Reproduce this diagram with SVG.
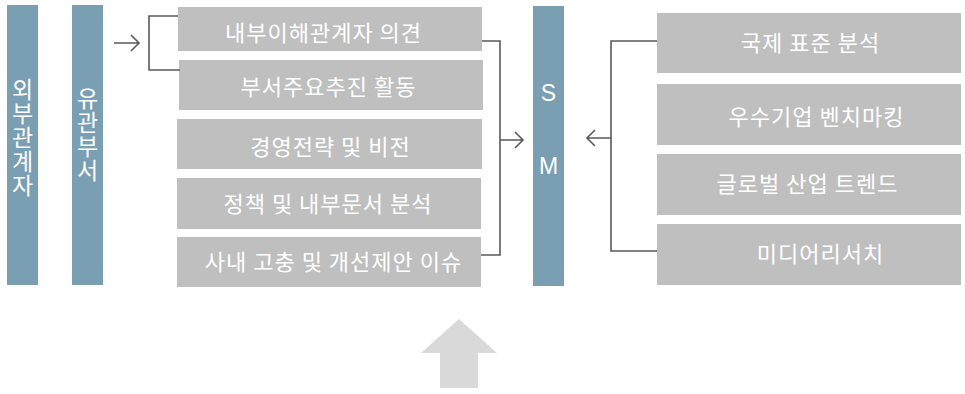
<svg xmlns="http://www.w3.org/2000/svg" width="965" height="394" viewBox="0 0 965 394">
<style>
.bar{fill:#7a9fb2}
.box{fill:#bfbfbf}
.t{font-family:"Noto Sans CJK KR","Noto Sans",sans-serif;font-size:22px;fill:#ffffff;text-anchor:middle;dominant-baseline:central;letter-spacing:1px}
.vt{font-family:"Noto Sans CJK KR","Noto Sans",sans-serif;font-size:23px;fill:#ffffff;text-anchor:middle;writing-mode:vertical-rl;letter-spacing:1px}
.lt{font-family:"Liberation Sans",Arial,sans-serif;font-size:23px;fill:#ffffff;text-anchor:middle;dominant-baseline:central}
.ln{fill:none;stroke:#5a5a5a;stroke-width:1.6}
</style>
<g id="ext">
<rect class="bar" x="7" y="5" width="31" height="280"/>
<text class="vt" x="22.5" y="138">외부관계자</text>
</g>
<g id="dept">
<rect class="bar" x="72" y="5" width="31" height="280"/>
<text class="vt" x="87.5" y="135">유관부서</text>
</g>
<g id="b1"><rect class="box" x="178" y="7" width="304" height="44"/><text class="t" x="323.5" y="31">내부이해관계자 의견</text></g>
<g id="b2"><rect class="box" x="179" y="60" width="304" height="50"/><text class="t" x="328.5" y="85">부서주요추진 활동</text></g>
<g id="b3"><rect class="box" x="177" y="119" width="305" height="50"/><text class="t" x="330.5" y="145">경영전략 및 비전</text></g>
<g id="b4"><rect class="box" x="177" y="178" width="304" height="51"/><text class="t" x="328" y="202">정책 및 내부문서 분석</text></g>
<g id="b5"><rect class="box" x="177" y="237" width="304" height="50"/><text class="t" x="333.5" y="260">사내 고충 및 개선제안 이슈</text></g>
<g id="sm">
<rect class="bar" x="533" y="6" width="31" height="280"/>
<text class="lt" x="548.5" y="93">S</text>
<text class="lt" x="548.5" y="166">M</text>
</g>
<g id="r1"><rect class="box" x="657" y="13" width="304" height="60"/><text class="t" x="810.5" y="41">국제 표준 분석</text></g>
<g id="r2"><rect class="box" x="657" y="84" width="304" height="61"/><text class="t" x="816.5" y="115">우수기업 벤치마킹</text></g>
<g id="r3"><rect class="box" x="657" y="154" width="304" height="61"/><text class="t" x="807.5" y="182">글로벌 산업 트렌드</text></g>
<g id="r4"><rect class="box" x="657" y="224" width="304" height="61"/><text class="t" x="820.5" y="252">미디어리서치</text></g>
<g id="connectors">
<path class="ln" d="M114,43 H139 M131,35 L139,43 L131,51"/>
<path class="ln" d="M178,16 H149 V70 H180"/>
<path class="ln" d="M482,41 H500 V255 H481 M500,140 H523 M515,132 L523,140 L515,148"/>
<path class="ln" d="M657,41 H611 V251 H657 M611,138 H587 M595,130 L587,138 L595,146"/>
</g>
<g id="bigarrow">
<polygon points="459,319 497,353 478,353 478,388 440,388 440,353 421,353" fill="#d9d9d9"/>
</g>
</svg>
